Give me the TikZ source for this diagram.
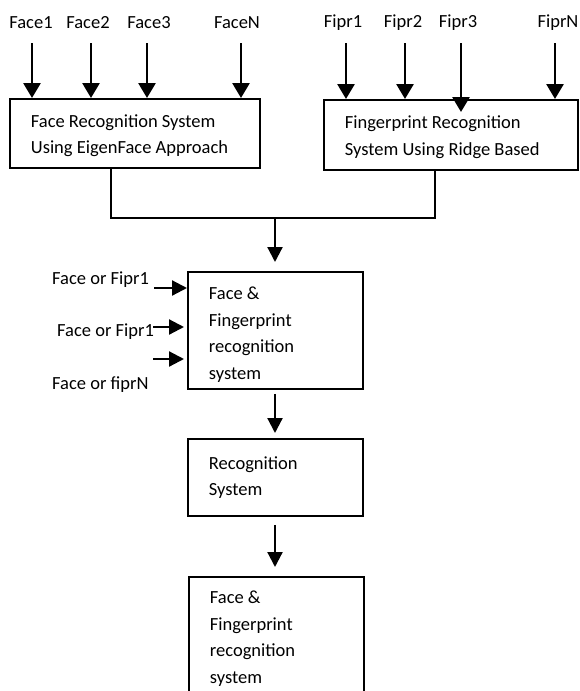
\documentclass[tikz,border=0pt]{standalone}
\usepackage{fontspec}
\setmainfont{Carlito}
\usetikzlibrary{arrows.meta,calc}
\begin{document}
\begin{tikzpicture}[x=1pt,y=-1pt,
  box/.style={draw,line width=1.8pt,rectangle,align=flush left,inner xsep=21pt,inner ysep=0pt,
    font=\fontsize{18.5}{26.5}\selectfont,anchor=north west},
  lower/.style={execute at begin node={\rule{0pt}{#1}}},
  lbl/.style={font=\fontsize{18.5}{20}\selectfont,inner sep=0pt},
  inarrow/.style={line width=2.8pt,-{Triangle[length=15pt,width=17pt]}},
  flow/.style={line width=2.2pt,-{Triangle[length=15pt,width=15pt]}},
  bus/.style={line width=1.8pt}]
\useasboundingbox (0,0) rectangle (579,691);
\clip (0,0) rectangle (579,691);
\fill[white] (0,0) rectangle (579,691);

% boxes
\node[box,lower=17pt,text width=208pt,minimum width=250pt,minimum height=69pt] (b1) at (9,98)
  {Face Recognition System\\Using EigenFace Approach};
\node[box,lower=17pt,text width=212pt,minimum width=254pt,minimum height=70pt] (b2) at (323,99)
  {Fingerprint Recognition\\System Using Ridge Based};
\node[box,lower=21pt,text width=133pt,minimum width=175pt,minimum height=117pt] (b3) at (187,271)
  {Face \&\\Fingerprint\\recognition\\system};
\node[box,text width=133pt,minimum width=175pt,minimum height=77pt] (b4) at (187,438)
  {Recognition\\System};
\node[box,text width=133pt,minimum width=175pt,minimum height=124pt] (b5) at (188,576)
  {Face \&\\Fingerprint\\recognition\\system};

% top labels
\node[lbl] (f1) at (31,23) {Face1};
\node[lbl] (f2) at (88,23) {Face2};
\node[lbl] (f3) at (149,23) {Face3};
\node[lbl] (fn) at (237,23) {FaceN};
\node[lbl] (p1) at (343,23) {Fipr1};
\node[lbl] (p2) at (403,23) {Fipr2};
\node[lbl] (p3) at (458,23) {Fipr3};
\node[lbl] (pn) at (558,23) {FiprN};

% top arrow starts
\coordinate (sf1) at (32,43);
\coordinate (sf2) at (91,43);
\coordinate (sf3) at (147,43);
\coordinate (sfn) at (241,43);
\coordinate (sp1) at (346,43);
\coordinate (sp2) at (405,43);
\coordinate (sp3) at (461,43);
\coordinate (spn) at (555,43);

\draw[inarrow] (sf1) -- (sf1 |- b1.north);
\draw[inarrow] (sf2) -- (sf2 |- b1.north);
\draw[inarrow] (sf3) -- (sf3 |- b1.north);
\draw[inarrow] (sfn) -- (sfn |- b1.north);
\draw[inarrow] (sp1) -- (sp1 |- b2.north);
\draw[inarrow] (sp2) -- (sp2 |- b2.north);
\draw[inarrow,shorten >=-13pt] (sp3) -- (sp3 |- b2.north);
\draw[inarrow] (spn) -- (spn |- b2.north);

% bus
\coordinate (j1) at (111,218);
\coordinate (j2) at (435,218);
\coordinate (jm) at (275,218);
\draw[bus] (b1.south -| j1) -- (j1) -- (j2) -- (b2.south -| j2);
\draw[flow,shorten >=9pt] (jm) -- (jm |- b3.north);

% left inputs
\node[lbl,anchor=west] (l1) at (52,280) {Face or Fipr1};
\node[lbl,anchor=west] (l2) at (57,332) {Face or Fipr1};
\node[lbl,anchor=west] (l3) at (52,385) {Face or fiprN};
\coordinate (a1) at (154,288);
\coordinate (a2) at (153,327);
\coordinate (a3) at (153,359);
\draw[flow] (a1) -- (a1 -| b3.west);
\draw[flow,shorten >=3pt] (a2) -- (a2 -| b3.west);
\draw[flow,shorten >=3pt] (a3) -- (a3 -| b3.west);

% vertical flow
\draw[flow,shorten <=4pt,shorten >=5pt] (b3.south -| jm) -- (b4.north -| jm);
\draw[flow,shorten <=8pt,shorten >=9pt] (b4.south -| jm) -- (b5.north -| jm);
\end{tikzpicture}
\end{document}
